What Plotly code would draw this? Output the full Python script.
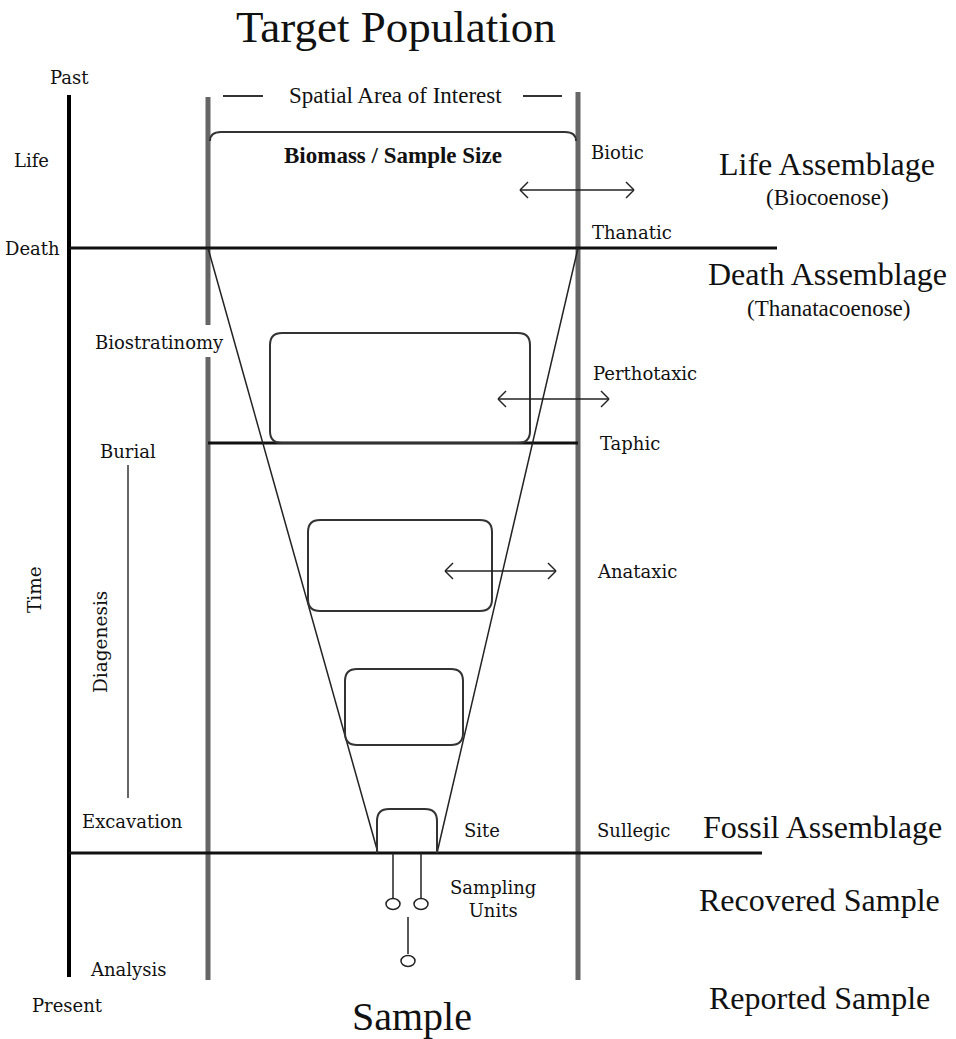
import plotly.graph_objects as go

# ---- diagram geometry (diagram pixel units, y grows downward) ----
W, H = 956, 1039

# time axis (black) and the two gray bounds of the spatial area
time_axis_x = 69
time_axis_y = [95, 977]
gray_x = [208, 208, 578]
gray_y0 = [97, 357, 92]
gray_y1 = [325, 980, 980]

# horizontal level lines: Death, Taphic, Fossil
level_y = [248, 443, 853]
level_x0 = [69, 208, 69]
level_x1 = [777, 578, 762]

# funnel (from death line down to the site)
funnel_left_x = [208, 378]
funnel_right_x = [578, 437]
funnel_y = [248, 853]

# rounded boxes inside the funnel
box_x0 = [270, 308, 345, 377]
box_x1 = [530, 492, 463, 437]
box_y0 = [333, 520, 669, 809]
box_y1 = [443, 611, 745, 853]
box_r = [12, 12, 12, 12]
box_open_bottom = [False, False, False, True]

# biomass bracket (top of the spatial area)
bracket_x = [210, 576]
bracket_y = [132, 141]

# double-headed arrows
arrow_y = [190, 399, 571]
arrow_x0 = [520, 498, 445]
arrow_x1 = [634, 609, 556]

# "spatial area" dashes
dash_x0 = [223, 523]
dash_x1 = [263, 562]
dash_y = 96

# diagenesis bar
diag_x = 128
diag_y = [465, 798]

# sampling units: stems and ellipses
stem_x = [393, 421, 408]
stem_y0 = [853, 853, 917]
stem_y1 = [898, 898, 954]
unit_x = [393, 421, 408]
unit_y = [904, 904, 961]
unit_w = 14
unit_h = 11

# ---- text ----
big_labels = ["Target Population", "Sample"]
big_x = [396, 412]
big_y = [27, 1016]
big_size = [45, 40]

right_labels = ["Life Assemblage", "Death Assemblage", "Fossil Assemblage",
                "Recovered Sample", "Reported Sample"]
right_x = [827, 827, 822, 819, 819]
right_y = [164, 274, 827, 900, 998]

sub_labels = ["(Biocoenose)", "(Thanatacoenose)"]
sub_x = [827, 828]
sub_y = [197, 308]

small_labels = ["Past", "Life", "Death", "Biostratinomy", "Burial", "Excavation",
                "Analysis", "Present", "Biotic", "Thanatic", "Perthotaxic", "Taphic",
                "Anataxic", "Site", "Sullegic", "Sampling<br>Units"]
small_x = [69, 31, 32, 159, 128, 132, 128, 67, 617, 632, 645, 630, 637, 482, 633, 493]
small_y = [77, 160, 248, 342, 451, 821, 969, 1005, 152, 232, 373, 443, 571, 830, 830, 899]

rot_labels = ["Time", "Diagenesis"]
rot_x = [34, 100]
rot_y = [590, 642]

SERIF = "Liberation Serif, Times New Roman, serif"
SLAB = "DejaVu Serif, serif"

fig = go.Figure()
shapes = []

def seg(x0, y0, x1, y1, color, width):
    shapes.append(dict(type="line", xref="x", yref="y", x0=x0, y0=y0, x1=x1, y1=y1,
                       line=dict(color=color, width=width)))

# gray bounds
for gx, a, b in zip(gray_x, gray_y0, gray_y1):
    seg(gx, a, gx, b, "#666666", 5)
# time axis
seg(time_axis_x, time_axis_y[0], time_axis_x, time_axis_y[1], "#000000", 4)
# level lines
for y, a, b in zip(level_y, level_x0, level_x1):
    seg(a, y, b, y, "#111111", 3)
# funnel
seg(funnel_left_x[0], funnel_y[0], funnel_left_x[1], funnel_y[1], "#222222", 1.5)
seg(funnel_right_x[0], funnel_y[0], funnel_right_x[1], funnel_y[1], "#222222", 1.5)

# rounded boxes
for x0, x1, y0, y1, r, ob in zip(box_x0, box_x1, box_y0, box_y1, box_r, box_open_bottom):
    if ob:
        p = (f"M {x0},{y1} L {x0},{y0+r} Q {x0},{y0} {x0+r},{y0} L {x1-r},{y0} "
             f"Q {x1},{y0} {x1},{y0+r} L {x1},{y1}")
    else:
        p = (f"M {x0+r},{y0} L {x1-r},{y0} Q {x1},{y0} {x1},{y0+r} L {x1},{y1-r} "
             f"Q {x1},{y1} {x1-r},{y1} L {x0+r},{y1} Q {x0},{y1} {x0},{y1-r} "
             f"L {x0},{y0+r} Q {x0},{y0} {x0+r},{y0} Z")
    shapes.append(dict(type="path", xref="x", yref="y", path=p,
                       line=dict(color="#333333", width=2)))

# biomass bracket
bx0, bx1 = bracket_x
by0, by1 = bracket_y
shapes.append(dict(type="path", xref="x", yref="y",
                   path=f"M {bx0},{by1} Q {bx0},{by0} {bx0+11},{by0} L {bx1-11},{by0} Q {bx1},{by0} {bx1},{by1}",
                   line=dict(color="#333333", width=2)))

# arrows
hl = 8
for y, a, b in zip(arrow_y, arrow_x0, arrow_x1):
    seg(a, y, b, y, "#222222", 1.5)
    seg(a, y, a + hl, y - hl, "#222222", 1.5)
    seg(a, y, a + hl, y + hl, "#222222", 1.5)
    seg(b, y, b - hl, y - hl, "#222222", 1.5)
    seg(b, y, b - hl, y + hl, "#222222", 1.5)

# spatial dashes
for a, b in zip(dash_x0, dash_x1):
    seg(a, dash_y, b, dash_y, "#333333", 2)

# diagenesis bar
seg(diag_x, diag_y[0], diag_x, diag_y[1], "#333333", 1.5)

# sampling units
for x, a, b in zip(stem_x, stem_y0, stem_y1):
    seg(x, a, x, b, "#222222", 1.5)
for x, y in zip(unit_x, unit_y):
    shapes.append(dict(type="circle", xref="x", yref="y",
                       x0=x - unit_w / 2, x1=x + unit_w / 2,
                       y0=y - unit_h / 2, y1=y + unit_h / 2,
                       line=dict(color="#222222", width=1.5)))

annotations = []

def label(text, x, y, size, family=SERIF, bold=False, angle=0):
    annotations.append(dict(text=f"<b>{text}</b>" if bold else text, x=x, y=y,
                            xref="x", yref="y", showarrow=False,
                            xanchor="center", yanchor="middle", textangle=angle,
                            font=dict(family=family, size=size, color="#111111")))

for t, x, y, s in zip(big_labels, big_x, big_y, big_size):
    label(t, x, y, s)
for t, x, y in zip(right_labels, right_x, right_y):
    label(t, x, y, 32)
for t, x, y in zip(sub_labels, sub_x, sub_y):
    label(t, x, y, 23)
for t, x, y in zip(small_labels, small_x, small_y):
    label(t, x, y, 18, family=SLAB)
for t, x, y in zip(rot_labels, rot_x, rot_y):
    label(t, x, y, 18.5, family=SLAB, angle=-90)
label("Spatial Area of Interest", 395, 95, 23)
label("Biomass / Sample Size", 393, 155, 23, bold=True)

# invisible trace to establish axes
fig.add_trace(go.Scatter(x=[0, W], y=[0, H], mode="markers",
                         marker=dict(opacity=0), hoverinfo="skip", showlegend=False))

fig.update_layout(
    width=W, height=H, margin=dict(l=0, r=0, t=0, b=0),
    paper_bgcolor="white", plot_bgcolor="white",
    shapes=shapes, annotations=annotations, showlegend=False,
    xaxis=dict(range=[0, W], visible=False, fixedrange=True),
    yaxis=dict(range=[H, 0], visible=False, fixedrange=True),
)

fig.write_html("out.html", config={"displayModeBar": False},
               post_script="document.body.style.margin='0';document.body.style.overflow='hidden';")
